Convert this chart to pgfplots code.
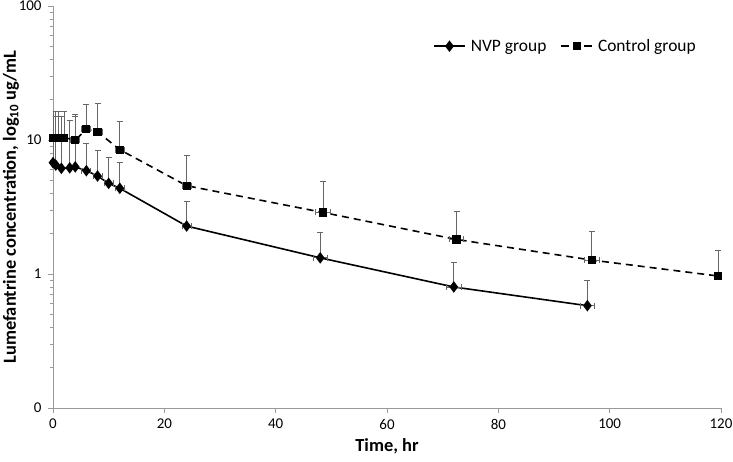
\documentclass[border=0pt]{standalone}
\usepackage{pgfplots}
\pgfplotsset{compat=1.18}
\usepackage{pgfplotstable}
\usepackage{fontspec}
\setmainfont{Carlito}

\pgfplotsset{
  nvpleg/.style={legend image code/.code={\draw[##1, mark repeat=2, mark phase=2] plot coordinates {(0bp,0bp) (15.5bp,0bp) (31bp,0bp)};}},
  ctrlleg/.style={legend image code/.code={\draw[##1, dash pattern=on 8bp off 15bp, mark repeat=2, mark phase=2] plot coordinates {(0bp,0bp) (15.5bp,0bp) (31bp,0bp)};}},
}

\pgfplotstableread{
t y ex ey
0 6.78 0 8.2
0.5 6.50 0 8.5
1.5 6.15 0 8.8
3 6.20 0 7.8
4 6.30 0 8.7
6 5.90 0.8 3.55
8 5.39 0.8 3.0
10 4.75 0.8 2.6
12 4.36 0.8 2.46
24 2.28 0.8 1.19
48 1.32 1.3 0.71
72 0.80 1.3 0.42
96 0.58 1.3 0.32
}\nvp

\pgfplotstableread{
t y ex ey
0 10.4 0 6.0
0.5 10.4 0 6.0
1 10.4 0 6.0
2 10.4 0 6.0
4 10.0 0.8 5.4
6 12.0 0.8 6.3
8 11.5 0.8 7.1
12 8.47 0.8 5.3
24 4.56 0.8 3.1
48.5 2.88 1.3 2.04
72.5 1.81 1.3 1.13
96.8 1.27 1.3 0.81
119.5 0.966 0.5 0.53
}\ctrl

\begin{document}
\begin{tikzpicture}
\begin{axis}[
  scale only axis, width=668bp, height=402bp,
  xmin=0, xmax=120, ymode=log, ymin=0.1, ymax=100,
  xtick={0,20,...,120}, ytick={0.1,1,10,100}, yticklabels={0,1,10,100},
  minor ytick={},
  axis x line=bottom, axis y line=left,
  axis line style={draw=black!40, line width=0.8bp, -},
  tick style={draw=black!40, line width=0.8bp},
  tick align=outside, major tick length=5bp,
  ticklabel style={font=\fontsize{15}{18}\selectfont},
  xticklabel style={yshift=-2.5bp},
  yticklabel style={xshift=-3bp},
  /pgf/number format/assume math mode=true,
  xlabel={Time, hr},
  ylabel={Lumefantrine concentration, log\textsubscript{10} ug/mL},
  label style={font=\bfseries\fontsize{18.5}{22}\selectfont},
  xlabel style={yshift=-2bp},
  ylabel shift=-7bp,
  legend style={draw=none, fill=none, at={(0.97,0.90)}, anchor=east,
    font=\fontsize{17.5}{20}\selectfont,
    /tikz/every odd column/.append style={column sep=3bp},
    /tikz/every even column/.append style={column sep=12bp}},
  legend columns=2,
]
\coordinate (o) at (rel axis cs:0,0);
\addplot[black, line width=1.6bp, mark=diamond*, mark size=4.5bp, mark options={solid}, nvpleg,
  error bars/.cd, y dir=plus, y explicit, x dir=both, x explicit,
  error bar style={black!60, line width=0.9bp}, error mark options={black!60, line width=0.9bp, mark size=3bp, rotate=90}]
  table[x=t, y=y, x error=ex, y error=ey] {\nvp};
\addlegendentry{NVP group}
\addplot[black, line width=1.6bp, dash pattern=on 7bp off 5bp, mark=square*, mark size=3.3bp, mark options={solid}, ctrlleg,
  error bars/.cd, y dir=plus, y explicit, x dir=both, x explicit,
  error bar style={black!60, line width=0.9bp, solid}, error mark options={black!60, line width=0.9bp, mark size=3bp, rotate=90, solid}]
  table[x=t, y=y, x error=ex, y error=ey] {\ctrl};
\addlegendentry{Control group}
\end{axis}
\pgfresetboundingbox
\path (o) ++(-53bp,-54bp) rectangle ++(733bp,462bp);
\end{tikzpicture}
\end{document}
